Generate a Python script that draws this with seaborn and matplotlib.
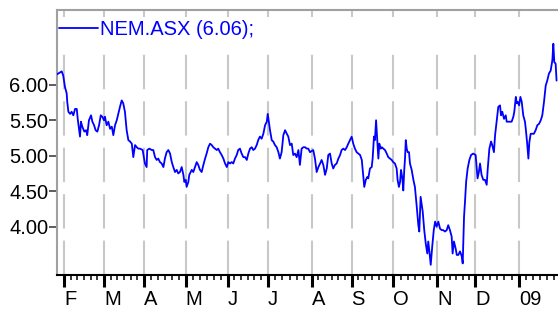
import numpy as np
import pandas as pd
import matplotlib
matplotlib.use("Agg")
import matplotlib.pyplot as plt
from matplotlib.patches import Rectangle
from matplotlib.ticker import FormatStrFormatter
import seaborn as sns

# ---- data: trading-day offset from 1 Feb 2008, closing price ----
tday = [
    -3.6, -1.2, -0.4, 0.5, 1.4, 1.7, 2.3, 3.2, 4.0, 4.9,
    5.8, 6.7, 7.2, 7.9, 8.4, 8.9, 9.6, 10.7, 11.6, 12.2,
    13.1, 14.2, 14.9, 15.8, 16.6, 17.5, 18.4, 19.3, 20.1, 21.0,
    21.5, 22.4, 23.3, 24.2, 25.1, 25.9, 26.8, 27.7, 28.5, 29.4,
    30.3, 31.1, 32.0, 32.9, 33.8, 34.7, 35.6, 36.4, 37.3, 38.2,
    39.0, 39.9, 41.3, 42.5, 43.4, 43.7, 44.8, 46.1, 46.9, 47.8,
    48.7, 49.5, 50.4, 51.3, 52.2, 53.0, 53.9, 54.8, 55.7, 56.6,
    57.4, 58.3, 59.2, 60.0, 60.9, 61.8, 62.7, 63.2, 63.9, 64.4,
    65.3, 65.8, 67.1, 67.9, 68.8, 69.7, 70.5, 71.4, 72.3, 73.2,
    74.1, 74.9, 75.8, 76.7, 77.6, 78.4, 79.3, 80.2, 81.0, 81.9,
    82.8, 83.7, 84.6, 85.5, 86.3, 87.2, 88.1, 88.9, 89.8, 90.7,
    91.5, 92.4, 93.3, 94.2, 95.1, 96.0, 96.8, 97.7, 98.6, 99.4,
    100.3, 101.2, 102.0, 102.9, 103.8, 104.7, 105.6, 106.5, 107.0, 107.7,
    108.2, 109.1, 109.9, 110.8, 111.7, 112.6, 113.4, 114.3, 115.2, 116.1,
    117.0, 117.8, 118.7, 119.6, 120.4, 121.3, 122.2, 123.1, 123.9, 124.8,
    125.7, 126.6, 127.5, 128.3, 129.2, 130.9, 131.8, 132.7, 133.6, 134.5,
    135.3, 136.2, 137.1, 138.0, 138.8, 139.7, 140.6, 141.4, 142.3, 143.2,
    144.1, 145.0, 145.8, 146.7, 147.6, 148.5, 149.3, 150.2, 151.1, 151.9,
    152.8, 153.7, 154.6, 155.5, 156.4, 157.2, 157.7, 158.5, 159.3, 159.8,
    160.7, 161.6, 162.1, 162.8, 163.3, 163.9, 164.5, 165.1, 165.6, 166.3,
    166.9, 167.7, 168.6, 169.5, 170.3, 171.2, 172.1, 172.9, 173.8, 174.7,
    175.2, 175.9, 176.5, 177.0, 177.7, 178.2, 178.7, 179.1, 179.5, 180.0,
    180.5, 181.2, 181.7, 182.6, 183.5, 184.3, 185.2, 186.1, 186.6, 187.3,
    187.9, 188.4, 189.2, 190.0, 190.8, 191.3, 191.9, 192.6, 193.4, 194.2,
    194.9, 195.7, 196.6, 197.5, 198.4, 199.2, 200.1, 201.0, 201.8, 202.7,
    203.6, 204.1, 204.8, 205.7, 206.3, 207.1, 208.0, 208.9, 209.4, 210.1,
    210.6, 211.2, 212.0, 212.9, 213.8, 214.9, 216.2, 216.7, 217.2, 217.9,
    218.5, 219.3, 220.2, 221.1, 222.0, 222.5, 223.4, 224.3, 224.9, 225.8,
    226.4, 227.2, 228.1, 229.0, 229.5, 230.2, 231.1, 232.0, 232.5, 233.4,
    234.2, 235.1, 236.0, 236.5, 237.3, 237.8, 238.3, 239.0, 239.7, 240.4,
    241.2, 242.1, 242.6, 243.2, 243.9, 244.4, 245.1, 246.0, 246.8, 247.7,
    248.6, 249.5, 250.4, 251.2, 252.1, 253.0, 253.8, 254.7, 255.6, 256.5,
    257.0, 257.5, 258.2, 258.7,
]
price = [
    6.15, 6.19, 6.13, 5.97, 5.88, 5.76, 5.62, 5.59, 5.62, 5.57,
    5.66, 5.66, 5.52, 5.38, 5.27, 5.48, 5.41, 5.34, 5.36, 5.29,
    5.50, 5.57, 5.48, 5.43, 5.36, 5.34, 5.43, 5.57, 5.55, 5.50,
    5.55, 5.43, 5.48, 5.38, 5.41, 5.29, 5.43, 5.50, 5.59, 5.69,
    5.78, 5.74, 5.62, 5.36, 5.22, 5.20, 5.17, 4.98, 5.15, 5.12,
    5.10, 5.10, 5.08, 4.89, 4.84, 5.08, 5.10, 5.08, 5.08, 4.98,
    4.94, 4.96, 4.91, 4.89, 4.84, 4.96, 5.05, 5.08, 5.03, 4.91,
    4.84, 4.77, 4.80, 4.75, 4.77, 4.84, 4.73, 4.63, 4.66, 4.56,
    4.63, 4.73, 4.80, 4.77, 4.84, 4.91, 4.87, 4.80, 4.77, 4.87,
    4.96, 5.03, 5.12, 5.17, 5.15, 5.12, 5.10, 5.08, 5.10, 5.05,
    5.01, 4.96, 4.89, 4.84, 4.91, 4.89, 4.91, 4.89, 4.96, 5.01,
    5.08, 5.10, 5.03, 4.98, 4.98, 4.94, 5.03, 5.10, 5.12, 5.08,
    5.10, 5.15, 5.22, 5.27, 5.24, 5.31, 5.43, 5.48, 5.59, 5.45,
    5.36, 5.22, 5.20, 5.15, 5.12, 5.05, 4.96, 5.05, 5.29, 5.36,
    5.31, 5.27, 5.15, 5.17, 5.01, 5.03, 4.98, 5.08, 4.87, 5.10,
    5.12, 5.12, 5.10, 5.10, 5.05, 5.08, 4.96, 4.77, 4.84, 4.89,
    4.94, 4.87, 4.73, 4.82, 5.01, 5.03, 4.89, 4.82, 4.87, 4.89,
    4.96, 5.01, 5.08, 5.10, 5.08, 5.12, 5.17, 5.22, 5.27, 5.17,
    5.10, 5.05, 5.03, 5.01, 4.94, 4.70, 4.56, 4.66, 4.70, 4.68,
    4.82, 4.84, 4.96, 5.27, 5.22, 5.50, 5.22, 4.96, 5.17, 5.10,
    5.12, 5.10, 5.08, 5.03, 4.98, 4.96, 4.94, 4.91, 4.89, 4.82,
    4.66, 4.56, 4.63, 4.80, 4.68, 4.51, 4.80, 4.96, 5.22, 5.10,
    5.05, 5.05, 4.89, 4.80, 4.66, 4.56, 4.30, 4.02, 3.93, 4.42,
    4.30, 4.21, 3.95, 3.76, 3.62, 3.79, 3.65, 3.46, 3.72, 3.95,
    4.07, 4.00, 4.07, 3.97, 3.95, 3.95, 3.93, 3.95, 4.02, 3.95,
    3.86, 3.62, 3.79, 3.69, 3.60, 3.60, 3.65, 3.58, 3.48, 4.14,
    4.35, 4.63, 4.82, 4.94, 5.01, 5.03, 5.01, 4.84, 4.68, 4.77,
    4.89, 4.73, 4.66, 4.66, 4.59, 4.80, 5.10, 5.20, 5.15, 5.05,
    5.29, 5.48, 5.69, 5.71, 5.57, 5.62, 5.52, 5.57, 5.48, 5.48,
    5.48, 5.48, 5.55, 5.62, 5.83, 5.74, 5.76, 5.71, 5.83, 5.76,
    5.57, 5.48, 5.36, 5.19, 4.96, 5.19, 5.31, 5.31, 5.31, 5.36,
    5.43, 5.45, 5.50, 5.57, 5.76, 5.99, 6.06, 6.16, 6.20, 6.35,
    6.58, 6.32, 6.30, 6.06,
]

month_starts = ["2008-02-01", "2008-03-01", "2008-04-01", "2008-05-01",
                "2008-06-01", "2008-07-01", "2008-08-01", "2008-09-01",
                "2008-10-01", "2008-11-01", "2008-12-01", "2009-01-01",
                "2009-02-01"]
month_labels = ["F", "M", "A", "M", "J", "J", "A", "S", "O", "N", "D", "09"]
yticks = [4.00, 4.50, 5.00, 5.50, 6.00]
series_name = "NEM.ASX"
last_value = 6.06

# ---- style ----
sns.set_style("white")
plt.rcParams["font.family"] = ["Liberation Sans", "DejaVu Sans"]
FS = 14.5
BLUE = "#0000ff"

fig = plt.figure(figsize=(5.58, 3.12), dpi=100)
ax = fig.add_axes([57 / 558, 37 / 312, 501 / 558, 265.5 / 312])

df = pd.DataFrame({"tday": tday, "price": price})
sns.lineplot(data=df, x="tday", y="price", ax=ax, color=BLUE, lw=1.3,
             sort=False, estimator=None, zorder=5,
             label=f"{series_name} ({last_value:.2f});")

# month positions on the trading-day axis
pos = np.busday_count("2008-02-01", month_starts).astype(float)
major = pos[:-1]
minor = np.concatenate([np.linspace(a, b, 7)[1:-1] for a, b in zip(pos[:-1], pos[1:])])

ax.set_xlim(-3.68, 259.45)
ax.set_ylim(3.317, 7.063)

# dashed month grid
for p in major:
    ax.axvline(p, color="#c8c8c8", lw=1.5, ls=(0, (16.5, 5.8)), zorder=1)

# white band behind the legend
ax.add_patch(Rectangle((0, 0.8475), 1, 0.1243, transform=ax.transAxes,
                       facecolor="white", edgecolor="none", zorder=2))

ax.set_xticks(major)
ax.set_xticklabels(month_labels, ha="left")
ax.set_xticks(minor, minor=True)
ax.set_yticks(yticks)
ax.yaxis.set_major_formatter(FormatStrFormatter("%.2f"))

ax.tick_params(axis="x", which="major", bottom=True, direction="out",
               length=8.6, width=2.2, color="black", pad=2.4,
               labelsize=FS, labelcolor="black")
ax.tick_params(axis="x", which="minor", bottom=True, direction="out",
               length=3.6, width=1.1, color="black")
ax.tick_params(axis="y", which="major", left=True, direction="out",
               length=5.8, width=1.1, color="#303030", pad=0.5,
               labelsize=FS, labelcolor="black")

ax.set_xlabel("")
ax.set_ylabel("")

for side in ["top", "left"]:
    ax.spines[side].set_color("#a0a0a0")
    ax.spines[side].set_linewidth(1.5)
ax.spines["bottom"].set_color("black")
ax.spines["bottom"].set_linewidth(1.5)
ax.spines["right"].set_visible(False)

leg = ax.legend(loc="center left", bbox_to_anchor=(0.004, 0.9228),
                frameon=False, handlelength=1.94, handletextpad=0.1,
                borderpad=0, borderaxespad=0, fontsize=FS, labelcolor=BLUE)
leg.set_zorder(6)

fig.savefig("out.png", dpi=100, facecolor="white")
